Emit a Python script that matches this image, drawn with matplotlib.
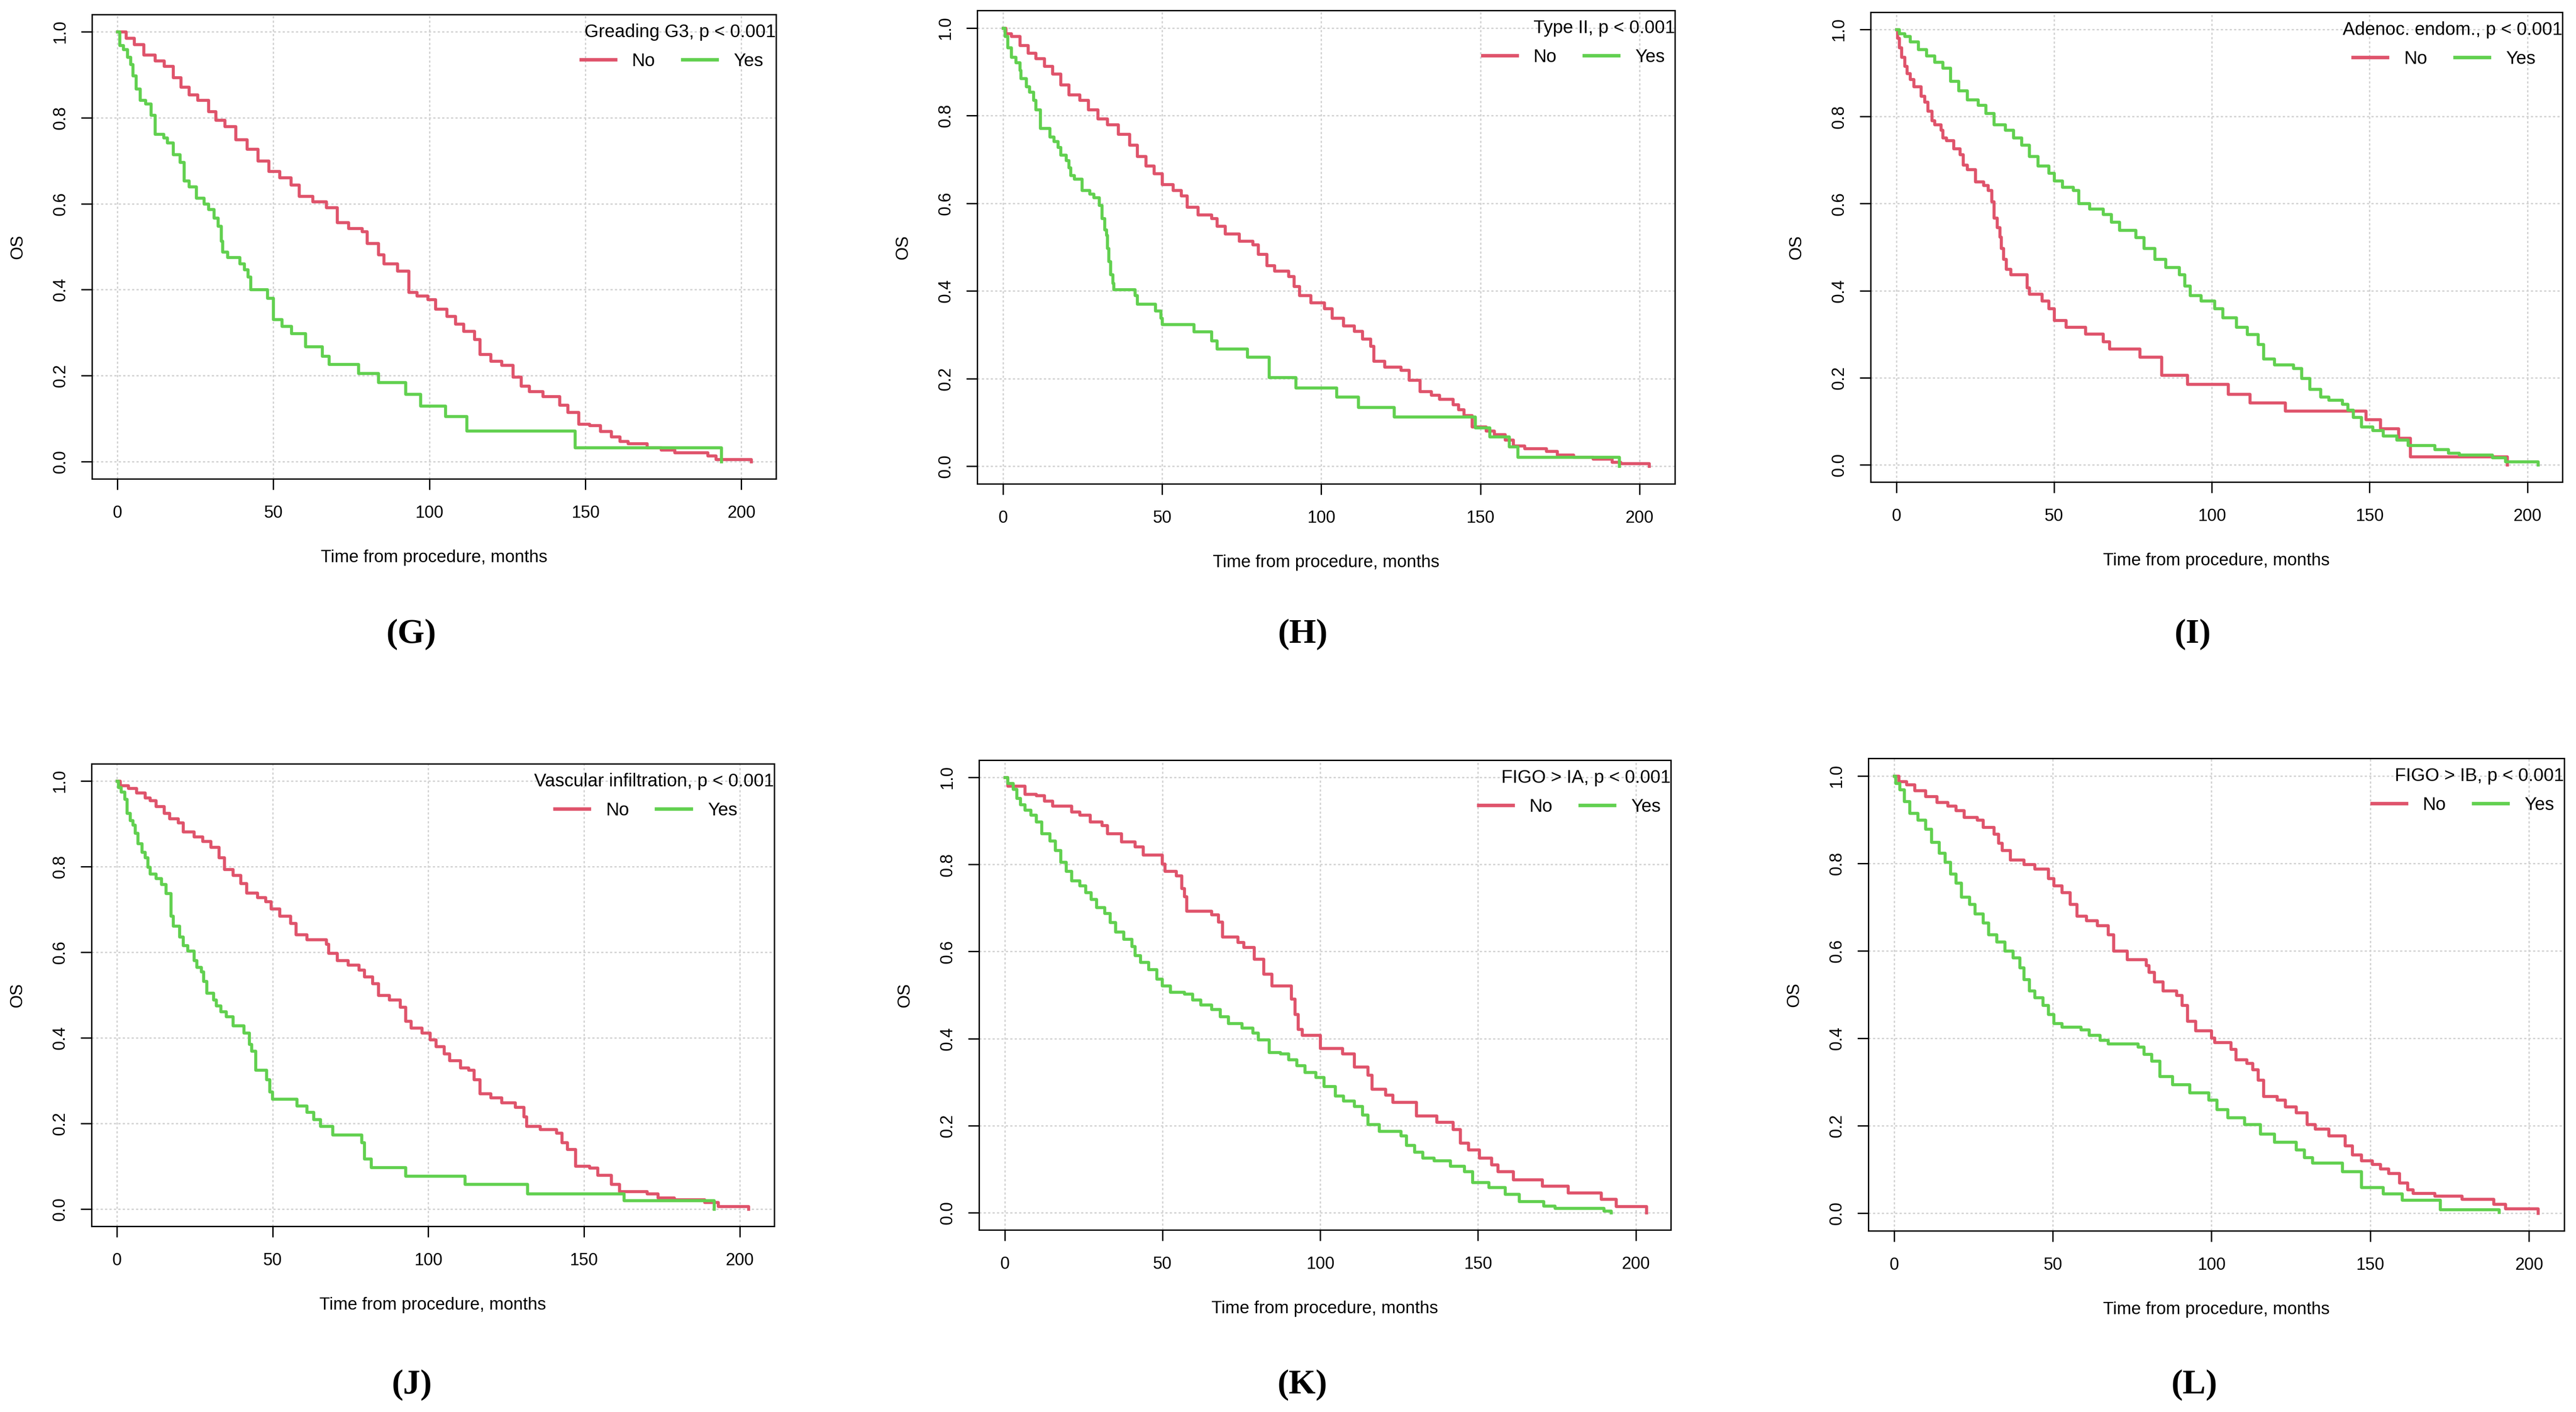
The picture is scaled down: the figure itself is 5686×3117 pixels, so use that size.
import matplotlib
matplotlib.use('Agg')
import matplotlib.pyplot as plt
from matplotlib.lines import Line2D

# ─── data (time in months, OS) ───────────────────────────────────────────────
titles = ['Greading G3, p < 0.001', 'Type II, p < 0.001', 'Adenoc. endom., p < 0.001',
          'Vascular infiltration, p < 0.001', 'FIGO > IA, p < 0.001', 'FIGO > IB, p < 0.001']
panel_tags = ['(G)', '(H)', '(I)', '(J)', '(K)', '(L)']
group_labels = ['No', 'Yes']
x_ticks = [0, 50, 100, 150, 200]
y_ticks = [0.0, 0.2, 0.4, 0.6, 0.8, 1.0]

g_no = [(0, 1.0), (2.8, .985), (5.4, .97), (8.4, .946), (12, .932), (15, .92), (17.8, .894),
        (20.4, .871), (23, .854), (25.7, .841), (29.2, .815), (31.5, .794), (34.4, .78),
        (37.9, .749), (41.5, .727), (45, .70), (48.5, .675), (52, .661), (55.6, .644),
        (58.2, .617), (62.6, .605), (67, .591), (70.5, .556), (74, .543), (78.4, .535),
        (80, .508), (83.7, .482), (85.4, .46), (89.8, .444), (93.3, .394), (96, .386),
        (99.5, .377), (102, .355), (105.6, .338), (108.3, .32), (110.9, .303), (114.4, .285),
        (116.2, .25), (119.7, .234), (123.2, .224), (126.7, .197), (129.4, .176), (132, .163),
        (136.4, .152), (141.7, .132), (144.3, .115), (147.8, .088), (151.3, .084), (154.8, .071),
        (158.3, .058), (161, .047), (163.6, .042), (169.8, .033), (174.2, .027), (178.6, .021),
        (189.2, .014), (191.8, .005), (203.2, 0.0)]
g_yes = [(0, 1.0), (0.7, .968), (1.9, .959), (3.2, .941), (4.2, .924), (4.9, .898), (6, .867),
         (7.2, .841), (9, .832), (10.7, .806), (12.1, .762), (14.8, .753), (16, .742),
         (17.8, .714), (20, .696), (21.3, .653), (23, .64), (25.3, .613), (27.8, .60),
         (29.2, .587), (30.9, .567), (32.3, .548), (33.2, .513), (33.7, .488), (35.3, .475),
         (39.2, .46), (40.6, .447), (41.8, .43), (42.7, .40), (48, .38), (49.9, .331),
         (52.7, .315), (55.7, .298), (60.3, .268), (65.7, .246), (67.8, .227), (77.2, .206),
         (83.7, .184), (92.3, .157), (97.2, .13), (105.1, .105), (112, .072), (146.6, .033),
         (193.5, 0.0)]

h_no = [(0, 1.0), (0.9, .987), (2.6, .981), (5.2, .96), (7.8, .943), (10.3, .93), (12.9, .913),
        (15.5, .895), (18.1, .87), (20.7, .848), (24.1, .835), (26.7, .814), (29.7, .793),
        (32.8, .78), (36.2, .758), (39.7, .733), (42.2, .707), (44.8, .686), (47.4, .668),
        (50, .643), (53.4, .63), (56, .617), (57.8, .591), (61.2, .574), (65.5, .566),
        (67.2, .548), (69.8, .531), (74.1, .514), (78.4, .506), (80.2, .484), (82.8, .458),
        (85.3, .446), (89.7, .433), (91.4, .411), (93.1, .39), (96.6, .373), (100.9, .36),
        (103.4, .338), (106.9, .321), (110.3, .308), (112.9, .291), (115.5, .274), (116.4, .24),
        (119.8, .227), (125, .219), (127.6, .197), (131, .171), (134.5, .163), (137.1, .153),
        (141.4, .141), (143.1, .129), (144.8, .116), (147.4, .09), (151.7, .081), (154.3, .073),
        (157.8, .06), (160.3, .047), (163.8, .041), (170.7, .034), (174.1, .026), (179.3, .021),
        (185.3, .017), (191.4, .01), (194, .006), (203, 0.0)]
h_yes = [(0, 1.0), (0.5, .981), (1.4, .955), (2.6, .934), (4, .921), (5.2, .904), (5.5, .885),
         (7.2, .866), (8.3, .854), (9.5, .835), (10.3, .814), (11.7, .771), (14.7, .752),
         (15.9, .741), (17.2, .728), (18.1, .71), (19.8, .698), (20.7, .681), (21.2, .664),
         (22.4, .656), (24.7, .63), (27.2, .621), (28.4, .613), (30.2, .596), (31, .566),
         (31.9, .54), (32.4, .527), (32.8, .497), (33.1, .467), (33.8, .437), (34.5, .418),
         (34.8, .403), (41.4, .39), (42.2, .37), (47.9, .355), (49.5, .338), (50, .324),
         (60, .307), (65.5, .287), (67.2, .268), (76.7, .249), (83.6, .203), (91.9, .179),
         (104.8, .158), (111.6, .135), (122.9, .113), (148.3, .088), (152.9, .067),
         (159, .045), (161.7, .021), (193.6, 0.0)]

i_no = [(0, 1.0), (0.3, .981), (0.9, .959), (1.7, .937), (2.6, .916), (3.4, .899), (4.3, .886),
        (5.5, .869), (7.8, .847), (9, .834), (10, .813), (11.2, .791), (12.1, .782),
        (14.1, .769), (14.7, .752), (15.9, .745), (18.1, .726), (20.2, .713), (21.2, .689),
        (22.4, .679), (25, .65), (27.6, .642), (29, .631), (30.2, .605), (31, .567),
        (31.9, .545), (32.8, .523), (33.3, .497), (34, .472), (34.8, .45), (36.2, .437),
        (41.4, .407), (42.2, .392), (46.2, .377), (48.3, .359), (50, .332), (53.8, .316),
        (60, .301), (65.5, .283), (67.6, .266), (77.1, .247), (84, .206), (92.2, .185),
        (105.2, .162), (112.1, .142), (123.3, .124), (148.8, .104), (153.4, .083),
        (159.1, .061), (162.9, .018), (193.6, 0.0)]
i_yes = [(0, 1.0), (0.9, .991), (2.6, .985), (4.3, .972), (6.9, .955), (9.5, .94), (12.1, .925),
         (14.7, .912), (17.2, .882), (19.8, .86), (22.4, .839), (25.9, .826), (28.4, .808),
         (31, .782), (34.5, .769), (37.1, .752), (39.7, .735), (42.2, .709), (44.8, .687),
         (48.3, .67), (50, .653), (52.6, .638), (56, .631), (57.8, .601), (61.2, .588),
         (65.5, .575), (68.1, .558), (70.7, .539), (75.9, .522), (78.4, .497), (81.9, .472),
         (85.3, .454), (89.7, .437), (91.4, .411), (93.1, .389), (96.6, .377), (100.9, .359),
         (103.4, .338), (107.8, .316), (111.2, .299), (114.7, .277), (116.4, .243),
         (119.8, .23), (125.9, .221), (128.4, .199), (131, .174), (134.5, .156), (137.1, .148),
         (141.4, .139), (143.1, .126), (144.8, .109), (147.4, .087), (150.9, .079),
         (154.3, .066), (158.6, .057), (162.1, .044), (170.7, .035), (175, .027),
         (178.4, .022), (188.8, .016), (193.1, .007), (203.4, 0.0)]

j_no = [(0, 1.0), (1.1, .989), (3.7, .983), (6.3, .972), (9, .961), (10.7, .954), (12.5, .941),
        (15.2, .925), (16.9, .912), (19.6, .903), (21.3, .881), (24.8, .87), (27.5, .859),
        (30.1, .845), (32.8, .821), (34.5, .794), (37.2, .78), (39.8, .761), (41.6, .739),
        (45.1, .728), (47.8, .718), (49.5, .701), (52.2, .685), (55.7, .668), (57.5, .641),
        (61, .63), (67.2, .619), (68, .598), (70.7, .581), (74.2, .57), (77.7, .559),
        (79.5, .543), (82.1, .527), (83.9, .499), (87.4, .489), (90.9, .472), (92.7, .439),
        (94.4, .423), (98, .412), (100.6, .396), (102.4, .38), (105, .363), (106.8, .347),
        (110.3, .33), (112.9, .325), (114.7, .303), (116.5, .27), (120, .26), (123.5, .249),
        (127.9, .238), (130.6, .216), (131.5, .194), (135.9, .186), (141.1, .178),
        (142.9, .156), (144.7, .14), (147.3, .101), (151.7, .096), (154.4, .08), (158.8, .058),
        (161.4, .041), (170.2, .036), (173.7, .027), (179, .022), (188.7, .016), (193.1, .007),
        (202.8, 0.0)]
j_yes = [(0, 1.0), (0.5, .985), (1.4, .974), (2.5, .958), (3.2, .925), (4.2, .908), (5.1, .897),
         (5.8, .878), (6.7, .854), (8.1, .834), (9, .821), (9.9, .799), (10.7, .783),
         (12.5, .772), (14.3, .759), (15.7, .737), (17.3, .685), (18.1, .661), (20.1, .636),
         (21.3, .616), (22.7, .603), (24.8, .581), (25.6, .565), (27.1, .554), (27.8, .532),
         (28.9, .505), (31, .489), (31.9, .475), (33.3, .461), (35.1, .45), (37.2, .429),
         (40.7, .412), (42.5, .385), (43.3, .369), (44.6, .325), (48.1, .303), (49, .274),
         (49.9, .257), (57.8, .241), (61, .227), (63.1, .21), (65.4, .194), (69.3, .174),
         (78.6, .156), (79.5, .118), (81.6, .098), (92.7, .077), (111.7, .058), (131.8, .036),
         (162.8, .02), (191.7, 0.0)]

k_no = [(0, 1.0), (0.9, .981), (6.4, .962), (9.9, .959), (12.5, .946), (15.1, .935), (21.2, .921),
        (23.8, .914), (27, .898), (30.8, .89), (32.5, .871), (36.9, .853), (41.2, .841),
        (43.8, .822), (49.9, .801), (50.8, .785), (54.3, .774), (56, .745), (56.9, .726),
        (57.7, .693), (65.6, .685), (67.7, .668), (69, .634), (73.9, .621), (75.7, .61),
        (79.1, .583), (82.1, .548), (84.7, .521), (90.8, .491), (92, .456), (92.9, .421),
        (94.3, .408), (100, .378), (107, .365), (110.8, .335), (115.1, .316), (116.3, .284),
        (120.7, .27), (123, .254), (130.4, .222), (136.9, .208), (142.1, .191), (144.3, .16),
        (147, .144), (150.4, .126), (154.3, .11), (156.3, .094), (161.2, .076), (170.4, .061),
        (178.6, .045), (189, .031), (193.7, .014), (203.3, 0.0)]
k_yes = [(0, 1.0), (0.9, .987), (2.6, .973), (3.8, .952), (5, .938), (6.4, .925), (8.2, .914),
         (9.9, .898), (11.7, .871), (14.3, .855), (16, .833), (17.7, .806), (19.5, .785),
         (21.2, .763), (23.8, .752), (25.6, .736), (27.3, .72), (29.1, .702), (31.7, .688),
         (33.4, .667), (35.1, .645), (37.7, .629), (40.3, .612), (41.2, .591), (43, .575),
         (45.6, .559), (48.2, .537), (49.9, .521), (52.5, .507), (56.9, .503), (59.5, .489),
         (62.1, .478), (65.6, .467), (68.2, .451), (70.8, .435), (75.1, .424), (78.6, .413),
         (80.3, .397), (83.8, .368), (87.3, .365), (89.9, .352), (92.5, .338), (95.1, .322),
         (98.6, .311), (101.2, .29), (104.7, .268), (107.3, .257), (110.8, .244), (113.4, .225),
         (115.1, .203), (118.6, .187), (125.6, .177), (127.3, .155), (129.9, .139),
         (132.5, .126), (136, .119), (141.2, .107), (145.6, .094), (148.2, .069), (153.4, .058),
         (158.6, .042), (163, .026), (170.8, .015), (174.3, .01), (189.9, .004), (192.2, 0.0)]

l_no = [(0, 1.0), (1.4, .987), (3.9, .98), (6.5, .966), (9.9, .953), (13.4, .94), (16.8, .931),
        (19.4, .921), (22, .905), (26.2, .899), (28, .883), (31.4, .867), (32.8, .846),
        (34, .83), (36.5, .808), (40.8, .798), (44.3, .787), (48.5, .766), (50.3, .749),
        (52.8, .733), (55.4, .707), (57.5, .68), (60.5, .669), (64, .658), (67.4, .637),
        (69.1, .60), (73.4, .58), (79.4, .567), (80.3, .551), (82, .53), (84.6, .509),
        (88.9, .498), (90.6, .476), (92.3, .439), (94.9, .418), (100, .401), (100.9, .391),
        (106, .375), (107.7, .351), (111.1, .343), (112.9, .329), (114.6, .305), (116.3, .268),
        (120.6, .259), (123.2, .244), (126.6, .23), (130.1, .203), (132.6, .193), (136.9, .177),
        (142, .155), (144.3, .134), (147.2, .12), (150.6, .112), (153.2, .102), (155.7, .091),
        (159.2, .07), (161.7, .054), (163.5, .046), (170.3, .04), (178.9, .032), (188.9, .021),
        (192.6, .011), (202.9, 0.0)]
l_yes = [(0, 1.0), (0.5, .983), (1.7, .969), (3.1, .942), (4.8, .915), (7.4, .899), (9.9, .878),
         (11.7, .848), (14.2, .824), (16, .803), (17.7, .776), (19.4, .755), (21.1, .723),
         (23.7, .707), (25.4, .685), (28, .664), (29.7, .637), (32.3, .621), (34.8, .60),
         (37.4, .584), (39.6, .562), (40.8, .535), (42.5, .509), (44.3, .493), (46.8, .476),
         (48.5, .455), (50.3, .434), (52.8, .426), (58.8, .42), (61.4, .407), (64.8, .396),
         (67.4, .388), (76.8, .38), (78.6, .364), (81.1, .348), (83.7, .313), (87.7, .294),
         (93.1, .276), (99.1, .259), (101.7, .238), (105.1, .219), (110.3, .203), (115.4, .182),
         (119.7, .163), (126.6, .145), (129.2, .128), (131.7, .115), (141.2, .096),
         (147.2, .059), (154, .045), (160, .03), (172, .009), (190.6, .002)]

curves = [(g_no, g_yes), (h_no, h_yes), (i_no, i_yes),
          (j_no, j_yes), (k_no, k_yes), (l_no, l_yes)]

# ─── layout (pixel boxes of the six plot frames: left, right, top, bottom) ───
W, H, DPI = 5686, 3117, 100
boxes = [(203, 1713, 32, 1057), (2157, 3697, 23, 1068), (4129, 5656, 27, 1064),
         (202, 1709, 1686, 2707), (2161, 3688, 1678, 2715), (4124, 5660, 1674, 2717)]
tag_xy = [(908, 1400), (2876, 1400), (4840, 1400),
          (909, 3057), (2875, 3057), (4844, 3057)]

RED, GREEN = '#DF536B', '#61D04F'
plt.rcParams['font.family'] = ['Liberation Sans', 'DejaVu Sans']

fig = plt.figure(figsize=(W / DPI, H / DPI), dpi=DPI)
renderer = fig.canvas.get_renderer()

for k, (box, title, (no, yes)) in enumerate(zip(boxes, titles, curves)):
    x0, x1, y0, y1 = box
    wpx, hpx = x1 - x0, y1 - y0
    ax = fig.add_axes([x0 / W, 1 - y1 / H, wpx / W, hpx / H])
    for data, col in ((no, RED), (yes, GREEN)):
        t = [p[0] for p in data]
        s = [p[1] for p in data]
        ax.step(t, s, where='post', color=col, lw=4.8)
    ax.set_xlim(-8.12, 211.12)
    ax.set_ylim(-0.04, 1.04)
    ax.set_xticks(x_ticks)
    ax.set_yticks(y_ticks)
    ax.set_yticklabels([f'{v:.1f}' for v in y_ticks], rotation=90, va='center')
    ax.tick_params(length=17, width=2.2, labelsize=27)
    ax.tick_params(axis='x', pad=25)
    ax.tick_params(axis='y', pad=20)
    for sp in ax.spines.values():
        sp.set_linewidth(2.2)
    ax.grid(color='#D3D3D3', linestyle=(0, (1.6, 1.6)), lw=2.2)
    ax.set_axisbelow(True)

    ax.set_xlabel('Time from procedure, months', fontsize=27.5)
    ax.xaxis.set_label_coords(0.5, -174 / hpx)
    ax.xaxis.label.set_va('center')
    ax.set_ylabel('OS', fontsize=27)
    ax.yaxis.set_label_coords(-164 / wpx, 0.5)
    ax.yaxis.label.set_va('center')

    # legend title flush with the right frame; entries centred under it
    # (slightly left), but never closer than ~22 px to the frame
    tt = ax.text(1.0, 1 - 39 / hpx, title, transform=ax.transAxes, ha='right',
                 va='center', fontsize=29)
    tw = tt.get_window_extent(renderer).width
    handles = [Line2D([], [], color=RED, lw=5.5), Line2D([], [], color=GREEN, lw=5.5)]
    leg = ax.legend(handles, group_labels, loc='center right',
                    bbox_to_anchor=(1.0, 1 - 103 / hpx),
                    ncol=2, frameon=False, fontsize=29, handlelength=1.89,
                    handletextpad=0.9, columnspacing=1.5, borderpad=0, borderaxespad=0)
    lw_px = leg.get_window_extent(renderer).width
    right = min(wpx - tw / 2 + lw_px / 2 - 18, wpx - 22)
    leg.set_bbox_to_anchor((right / wpx, 1 - 103 / hpx), transform=ax.transAxes)

for tag, (tx, ty) in zip(panel_tags, tag_xy):
    fig.text(tx / W, 1 - ty / H, tag, ha='center', va='center', fontsize=55,
             fontweight='bold', family=['Liberation Serif', 'DejaVu Serif'])

fig.savefig('out.png', dpi=DPI)
